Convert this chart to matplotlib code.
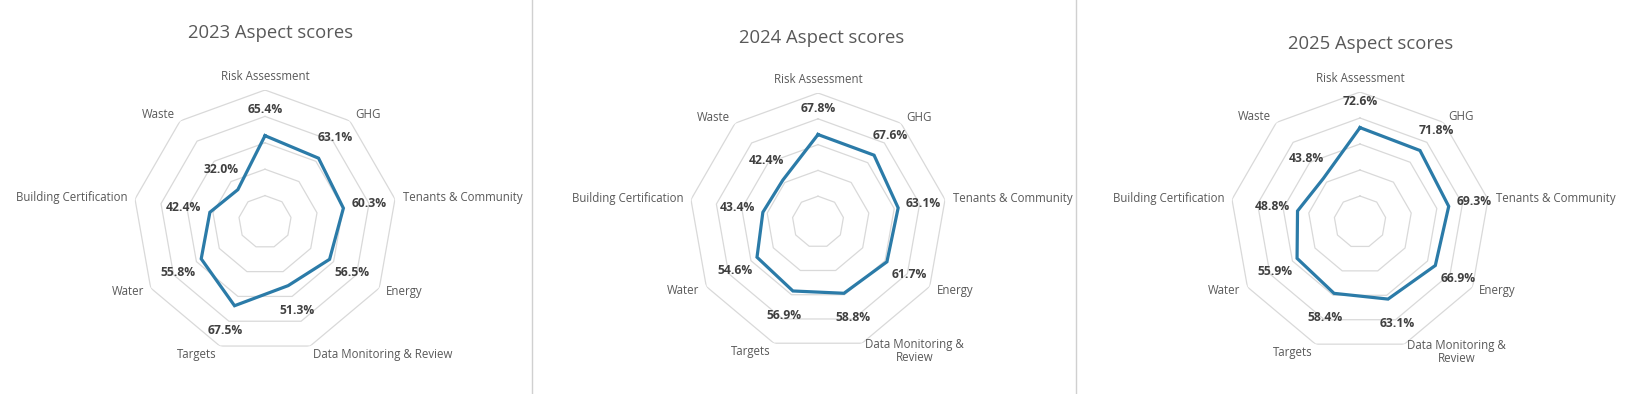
import numpy as np
import matplotlib
matplotlib.use("Agg")
import matplotlib.pyplot as plt

plt.rcParams['font.family'] = ['Open Sans', 'DejaVu Sans']

categories_2023 = ["Risk Assessment", "GHG", "Tenants & Community", "Energy",
                   "Data Monitoring & Review", "Targets", "Water",
                   "Building Certification", "Waste"]
categories_wrapped = ["Risk Assessment", "GHG", "Tenants & Community", "Energy",
                      "Data Monitoring &\nReview", "Targets", "Water",
                      "Building Certification", "Waste"]

scores_2023 = [65.4, 63.1, 60.3, 56.5, 51.3, 67.5, 55.8, 42.4, 32.0]
scores_2024 = [67.8, 67.6, 63.1, 61.7, 58.8, 56.9, 54.6, 43.4, 42.4]
scores_2025 = [72.6, 71.8, 69.3, 66.9, 63.1, 58.4, 55.9, 48.8, 43.8]

years = ["2023", "2024", "2025"]
rings = [20, 40, 60, 80, 100]

LINE = "#2B7BA8"
GRID = "#D9D9D9"
LABEL = "#595959"
VALUE = "#404040"

W, H = 1639, 394
fig = plt.figure(figsize=(W / 100, H / 100), dpi=100)

# panel centre (px), radius (px), title position (px)
panels = [
    (265, 222, 132, 33, 271, categories_2023, scores_2023),
    (818, 222, 129, 38, 822, categories_wrapped, scores_2024),
    (1360, 222, 130, 44, 1371, categories_wrapped, scores_2025),
]

n = len(categories_2023)
theta = np.linspace(0, 2 * np.pi, n, endpoint=False)

for (cx, cy, R, ty, tx, cats, vals), yr in zip(panels, years):
    ax = fig.add_axes([(cx - R) / W, 1 - (cy + R) / H, 2 * R / W, 2 * R / H],
                      projection='polar')
    ax.set_theta_offset(np.pi / 2)
    ax.set_theta_direction(-1)
    ax.set_ylim(0, 100)
    ax.grid(False)
    ax.spines['polar'].set_visible(False)
    ax.set_xticks([])
    ax.set_yticks([])
    ax.patch.set_alpha(0)

    th_closed = np.append(theta, theta[0])
    for r in rings:
        ax.plot(th_closed, [r] * (n + 1), color=GRID, lw=0.9, zorder=1)

    v = np.array(vals)
    ax.plot(th_closed, np.append(v, v[0]), color=LINE, lw=2.3, zorder=3,
            solid_joinstyle='miter')

    for t, val in zip(theta, vals):
        ax.text(t, val + 20, f"{val:.1f}%", ha='center', va='center',
                fontsize=8.7, fontweight='bold', color=VALUE, zorder=4)

    for t, cat in zip(theta, cats):
        ang = np.pi / 2 - t
        c = np.cos(ang)
        if abs(c) < 0.05:
            ha, va, rr = 'center', 'bottom', 105.5
        else:
            ha = 'left' if c > 0 else 'right'
            va = 'center'
            rr = 106 if abs(np.sin(ang)) < 0.9 else 106.5
        ax.text(t, rr, cat, ha=ha, va=va, fontsize=8.3, color=LABEL,
                multialignment='center', linespacing=1.05)

    fig.text(tx / W, 1 - ty / H, f"{yr} Aspect scores", ha='center',
             va='center', fontsize=13.3, color=LABEL)

for x in [532, 1076]:
    fig.add_artist(plt.Line2D([x / W, x / W], [0, 1], color="#D0D0D0", lw=1))

fig.savefig("out.png", dpi=100, facecolor="white")
